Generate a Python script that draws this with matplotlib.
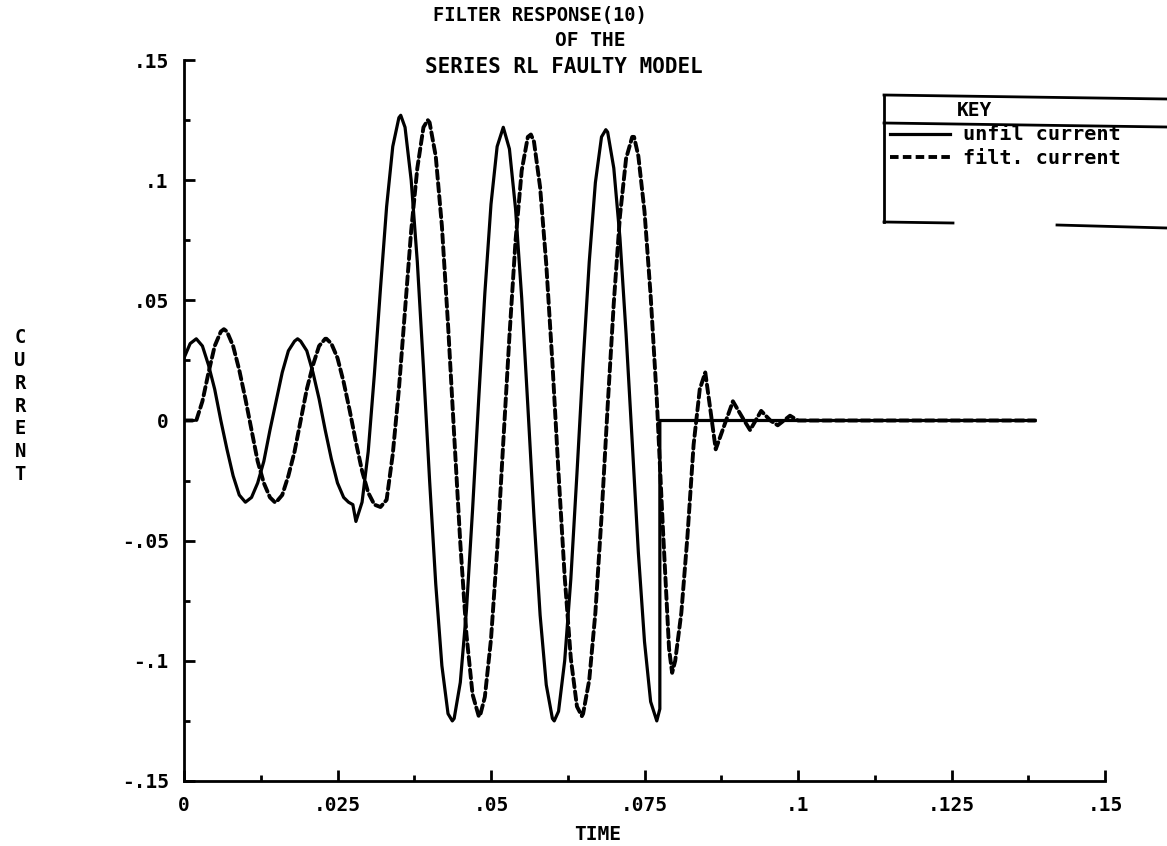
import matplotlib.pyplot as plt
from matplotlib.lines import Line2D
from matplotlib.ticker import MultipleLocator

plt.rcParams['font.family'] = ['DejaVu Sans Mono', 'DejaVu Sans']
plt.rcParams['font.weight'] = 'bold'

# unfiltered current (solid trace)
t_unfil = [0, .001, .002, .003, .004, .005, .006, .007, .008, .009, .010, .011,
           .012, .013, .014, .015, .016, .017, .018, .0185, .019, .020, .021, .022,
           .023, .024, .025, .026, .0268, .0275, .028, .029, .030, .031, .032, .033,
           .034, .035, .0353, .036, .037, .038, .039, .040, .041, .042, .043, .0437,
           .044, .045, .046, .047, .048, .049, .050, .051, .052, .053, .054, .055,
           .056, .057, .058, .059, .060, .0603, .061, .062, .063, .064, .065, .066,
           .067, .068, .0687, .069, .070, .071, .072, .073, .074, .075, .076, .077,
           .0775, .0775, .1386]
i_unfil = [.026, .032, .034, .031, .023, .013, .000, -.012, -.023, -.031, -.034, -.032,
           -.026, -.017, -.004, .008, .020, .029, .033, .034, .033, .029, .020, .009,
           -.004, -.016, -.026, -.032, -.034, -.035, -.042, -.034, -.013, .019, .055, .089,
           .114, .126, .127, .122, .100, .066, .022, -.025, -.068, -.102, -.122, -.125,
           -.124, -.109, -.079, -.037, .009, .053, .090, .114, .122, .113, .088, .051,
           .006, -.040, -.081, -.110, -.124, -.125, -.121, -.100, -.066, -.022, .024, .066,
           .099, .118, .121, .120, .105, .076, .036, -.009, -.055, -.092, -.117, -.125,
           -.120, .000, .000]

# filtered current (dashed trace)
t_filt = [0, .001, .002, .003, .004, .005, .006, .0065, .007, .008, .009, .010,
          .011, .012, .013, .014, .0148, .015, .016, .017, .018, .019, .020, .021,
          .022, .023, .0232, .024, .025, .026, .027, .028, .029, .030, .031, .032,
          .033, .034, .035, .036, .037, .038, .039, .0397, .040, .041, .042, .043,
          .044, .045, .046, .047, .048, .0482, .049, .050, .051, .052, .053, .054,
          .055, .056, .0565, .057, .058, .059, .060, .061, .062, .063, .064, .0648,
          .065, .066, .067, .068, .069, .070, .071, .072, .073, .0733, .074, .075,
          .076, .077, .078, .079, .0795, .080, .081, .082, .083, .084, .0849, .0857,
          .0866, .088, .0894, .091, .0922, .094, .0955, .0967, .0987, .100, .1386]
i_filt = [0, 0, .000, .008, .020, .031, .037, .038, .037, .031, .021, .009,
          -.004, -.017, -.026, -.032, -.034, -.034, -.031, -.023, -.013, .000, .013, .023,
          .031, .034, .034, .032, .026, .016, .004, -.009, -.021, -.030, -.035, -.036,
          -.033, -.014, .013, .046, .079, .105, .122, .125, .124, .110, .081, .040,
          -.006, -.051, -.089, -.114, -.123, -.123, -.115, -.091, -.054, -.009, .035, .075,
          .104, .118, .119, .116, .097, .065, .024, -.022, -.065, -.099, -.119, -.123,
          -.122, -.108, -.080, -.040, .006, .049, .085, .109, .118, .118, .110, .087,
          .052, .009, -.045, -.095, -.105, -.100, -.080, -.048, -.010, .013, .020, .005,
          -.012, -.002, .008, .001, -.004, .004, .000, -.002, .002, .000, .000]

x_ticks = [0, .025, .05, .075, .1, .125, .15]
x_tick_labels = ["0", ".025", ".05", ".075", ".1", ".125", ".15"]
y_ticks = [-.15, -.1, -.05, 0, .05, .1, .15]
y_tick_labels = ["-.15", "-.1", "-.05", "0", ".05", ".1", ".15"]

W, H = 1167, 846


def fig_xy(x, y):
    # pixel position (from top-left) to figure fraction
    return x / W, 1 - y / H


fig = plt.figure(figsize=(W / 100, H / 100), dpi=100)
ax = fig.add_axes([184 / W, 1 - 781 / H, 921 / W, 721 / H])

ax.plot(t_unfil, i_unfil, color='black', lw=2.3, solid_joinstyle='round')
ax.plot(t_filt, i_filt, color='black', lw=2.8, linestyle=(0, (2.2, 1.1)),
        dash_capstyle='round')

ax.set_xlim(0, .15)
ax.set_ylim(-.15, .15)
for side in ['top', 'right']:
    ax.spines[side].set_visible(False)
for side in ['left', 'bottom']:
    ax.spines[side].set_linewidth(2)

ax.set_xticks(x_ticks)
ax.set_xticklabels(x_tick_labels)
ax.set_yticks(y_ticks)
ax.set_yticklabels(y_tick_labels)
ax.xaxis.set_minor_locator(MultipleLocator(.0125))
ax.yaxis.set_minor_locator(MultipleLocator(.025))
ax.tick_params(which='major', direction='in', length=8, width=2,
               labelsize=14, pad=11)
ax.tick_params(which='minor', direction='in', length=4.5, width=2)

# title block
fig.text(*fig_xy(540, 16), "FILTER RESPONSE(10)", ha='center', va='center', fontsize=13.5)
fig.text(*fig_xy(590, 41), "OF THE", ha='center', va='center', fontsize=14)
fig.text(*fig_xy(564, 67), "SERIES RL FAULTY MODEL", ha='center', va='center', fontsize=15)

# axis titles
fig.text(*fig_xy(598, 834), "TIME", ha='center', va='center', fontsize=14)
fig.text(*fig_xy(20, 406), "C\nU\nR\nR\nE\nN\nT", ha='center', va='center',
         fontsize=13.5, linespacing=1.25)

# key box, open to the right
box = dict(color='black', lw=2, transform=fig.transFigure)
fig.add_artist(Line2D(*zip(fig_xy(884, 95), fig_xy(1167, 99)), **box))
fig.add_artist(Line2D(*zip(fig_xy(884, 123), fig_xy(1167, 127)), **box))
fig.add_artist(Line2D(*zip(fig_xy(884, 95), fig_xy(884, 222)), **box))
fig.add_artist(Line2D(*zip(fig_xy(884, 222), fig_xy(953, 223)), **box))
fig.add_artist(Line2D(*zip(fig_xy(1057, 225), fig_xy(1167, 228)), **box))
fig.text(*fig_xy(975, 110), "KEY", ha='center', va='center', fontsize=14)

fig.add_artist(Line2D(*zip(fig_xy(890, 134), fig_xy(950, 134)), color='black',
                      lw=2.3, transform=fig.transFigure))
fig.add_artist(Line2D(*zip(fig_xy(890, 157), fig_xy(950, 157)), color='black',
                      lw=2.8, linestyle=(0, (2.2, 1.1)), transform=fig.transFigure))
fig.text(*fig_xy(963, 135), "unfil current", ha='left', va='center', fontsize=14.5)
fig.text(*fig_xy(963, 159), "filt. current", ha='left', va='center', fontsize=14.5)

fig.savefig("out.png", dpi=100)
